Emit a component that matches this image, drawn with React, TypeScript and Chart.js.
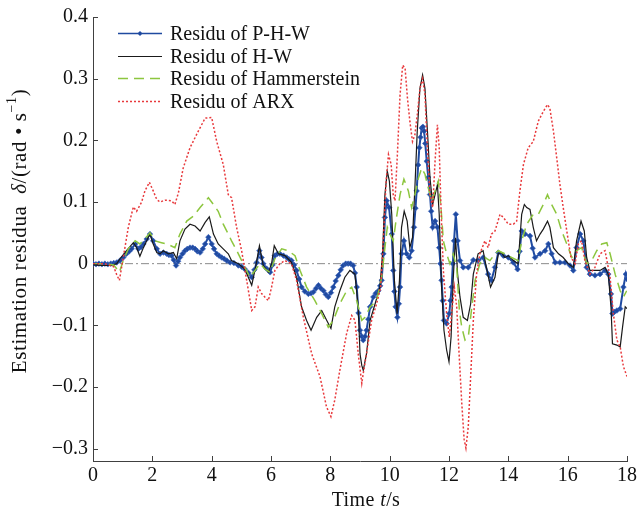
import React, { useEffect, useRef } from "react";
import { Chart, registerables } from "chart.js";
Chart.register(...registerables);

const X_TICKS = [0, 2, 4, 6, 8, 10, 12, 14, 16, 18];
const Y_TICKS = [-0.3, -0.2, -0.1, 0, 0.1, 0.2, 0.3, 0.4];
const LABELS = ["Residu of P-H-W", "Residu of H-W", "Residu of Hammerstein", "Residu of ARX"];
// title pieces: [text, style]  style: "n" normal, "i" italic, "s" superscript
const X_TITLE: [string, string][] = [["Time ", "n"], ["t", "i"], ["/s", "n"]];
const Y_TITLE: [string, string][] = [
  ["Estimation residua  ", "n"],
  ["\u03b4", "i"],
  ["/(rad \u2022 s", "n"],
  ["\u22121", "s"],
  [")", "n"],
];

// [time (s), residual]
const PHW: [number, number][] = [
  [0, 0], [0.1, -0.001], [0.2, 0], [0.3, -0.001], [0.4, 0], [0.5, -0.001], [0.6, 0], [0.7, 0.001], [0.8, 0.002],
  [0.91, 0.005], [1.02, 0.01], [1.13, 0.016], [1.22, 0.02], [1.3, 0.024], [1.42, 0.032], [1.53, 0.024], [1.62, 0.027],
  [1.7, 0.032], [1.81, 0.04], [1.92, 0.048], [2.03, 0.037], [2.15, 0.024], [2.26, 0.016], [2.37, 0.018], [2.48, 0.016],
  [2.56, 0.014], [2.65, 0.013], [2.72, 0.006], [2.8, -0.003], [2.87, 0.004], [2.93, 0.01], [3.02, 0.016], [3.1, 0.021],
  [3.18, 0.024], [3.27, 0.026], [3.36, 0.026], [3.44, 0.024], [3.52, 0.02], [3.61, 0.018], [3.7, 0.024], [3.78, 0.032],
  [3.89, 0.043], [4.0, 0.032], [4.08, 0.024], [4.17, 0.016], [4.25, 0.013], [4.34, 0.01], [4.42, 0.008], [4.51, 0.005],
  [4.62, 0.002], [4.75, 0.001], [4.9, -0.003], [5.01, -0.005], [5.12, -0.009], [5.24, -0.015], [5.35, -0.022],
  [5.44, -0.01], [5.52, 0.002], [5.61, 0.021], [5.68, 0.01], [5.74, 0], [5.85, -0.008], [5.97, -0.014], [6.05, -0.002],
  [6.13, 0.013], [6.22, 0.016], [6.3, 0.016], [6.42, 0.013], [6.53, 0.01], [6.61, 0.007], [6.69, 0.005], [6.78, -0.002],
  [6.86, -0.011], [6.95, -0.025], [7.03, -0.038], [7.14, -0.045], [7.26, -0.049], [7.35, -0.048], [7.43, -0.046],
  [7.52, -0.04], [7.6, -0.035], [7.68, -0.04], [7.77, -0.044], [7.85, -0.05], [7.93, -0.054], [8.02, -0.047],
  [8.1, -0.038], [8.18, -0.028], [8.27, -0.019], [8.35, -0.01], [8.43, -0.003], [8.52, 0], [8.6, 0], [8.68, 0],
  [8.77, -0.003], [8.83, -0.015], [8.89, -0.038], [8.95, -0.08], [9.0, -0.108], [9.06, -0.118], [9.11, -0.124],
  [9.17, -0.118], [9.22, -0.108], [9.28, -0.09], [9.34, -0.07], [9.45, -0.054], [9.53, -0.048], [9.62, -0.044],
  [9.68, -0.036], [9.73, -0.027], [9.79, 0.016], [9.84, 0.075], [9.9, 0.102], [9.98, 0.091], [10.07, 0.048],
  [10.12, -0.011], [10.16, -0.045], [10.2, -0.07], [10.26, -0.087], [10.31, -0.065], [10.35, -0.038], [10.4, 0.016],
  [10.48, 0.037], [10.57, 0.016], [10.66, 0.01], [10.74, 0.021], [10.82, 0.059], [10.87, 0.09], [10.91, 0.118],
  [10.96, 0.16], [11.0, 0.188], [11.04, 0.205], [11.08, 0.22], [11.12, 0.222], [11.16, 0.215], [11.2, 0.195],
  [11.25, 0.166], [11.3, 0.14], [11.36, 0.112], [11.4, 0.085], [11.45, 0.059], [11.53, 0.069], [11.61, 0.059],
  [11.67, 0.026], [11.71, 0], [11.75, -0.027], [11.79, -0.06], [11.83, -0.092], [11.92, -0.097], [12.01, -0.081],
  [12.05, -0.06], [12.09, -0.038], [12.13, 0], [12.17, 0.037], [12.23, 0.08], [12.29, 0.037], [12.37, 0.005],
  [12.48, -0.006], [12.65, -0.006], [12.82, 0.006], [12.98, 0.005], [13.15, 0.01], [13.32, -0.017], [13.43, -0.027],
  [13.55, -0.006], [13.66, 0.018], [13.83, 0.013], [14.0, 0.01], [14.17, 0.002], [14.31, -0.009], [14.38, 0.02],
  [14.45, 0.053], [14.56, 0.048], [14.73, 0.045], [14.82, 0.025], [14.9, 0.01], [15.07, 0.016], [15.24, 0.021],
  [15.35, 0.032], [15.46, 0.016], [15.58, 0.002], [15.74, 0.002], [15.91, 0.002], [16.08, -0.003], [16.19, -0.011],
  [16.3, 0.026], [16.42, 0.048], [16.53, 0.037], [16.64, -0.006], [16.75, -0.017], [16.92, -0.019], [17.09, -0.017],
  [17.26, -0.011], [17.37, -0.017], [17.46, -0.049], [17.51, -0.081], [17.58, -0.078], [17.66, -0.076],
  [17.77, -0.073], [17.88, -0.038], [17.96, -0.017], [18.0, -0.025],
];

const HW: [number, number][] = [
  [0, -0.002], [0.3, -0.003], [0.6, -0.003], [0.8, 0], [0.91, 0.008], [1.13, 0.021], [1.36, 0.034], [1.47, 0.026],
  [1.58, 0.012], [1.7, 0.026], [1.81, 0.037], [1.92, 0.048], [2.03, 0.032], [2.15, 0.018], [2.26, 0.016], [2.37, 0.021],
  [2.54, 0.016], [2.71, 0.018], [2.82, 0.008], [2.93, 0.037], [3.1, 0.056], [3.27, 0.064], [3.44, 0.061], [3.61, 0.053],
  [3.78, 0.067], [3.92, 0.076], [4.06, 0.048], [4.22, 0.032], [4.39, 0.024], [4.56, 0.016], [4.67, 0.005], [4.9, 0],
  [5.12, -0.009], [5.35, -0.035], [5.48, -0.006], [5.61, 0.029], [5.74, -0.003], [5.91, -0.014], [6.02, 0],
  [6.11, 0.029], [6.25, 0.016], [6.47, 0.013], [6.69, 0.002], [6.86, -0.022], [7.03, -0.07], [7.2, -0.092],
  [7.35, -0.108], [7.54, -0.087], [7.71, -0.076], [7.88, -0.092], [8.02, -0.105], [8.15, -0.07], [8.32, -0.044],
  [8.49, -0.022], [8.66, -0.011], [8.83, -0.017], [8.94, -0.07], [9.0, -0.146], [9.06, -0.165], [9.11, -0.173],
  [9.22, -0.146], [9.34, -0.092], [9.51, -0.065], [9.67, -0.038], [9.76, 0.016], [9.84, 0.112], [9.92, 0.15],
  [9.99, 0.134], [10.07, 0.08], [10.16, -0.027], [10.25, -0.081], [10.33, -0.027], [10.4, 0.059], [10.49, 0.085],
  [10.59, 0.069], [10.68, 0.026], [10.77, 0.042], [10.85, 0.123], [10.93, 0.215], [11.02, 0.284], [11.11, 0.306],
  [11.19, 0.284], [11.28, 0.209], [11.36, 0.139], [11.45, 0.096], [11.53, 0.112], [11.61, 0.128], [11.67, 0.08],
  [11.75, -0.038], [11.83, -0.108], [11.92, -0.14], [12.0, -0.159], [12.07, -0.119], [12.14, -0.027], [12.22, 0.042],
  [12.29, -0.017], [12.37, -0.054], [12.48, -0.087], [12.62, -0.092], [12.73, -0.065], [12.82, -0.017], [12.98, 0.016],
  [13.15, 0.021], [13.26, -0.006], [13.4, -0.038], [13.55, -0.022], [13.66, 0.016], [13.77, 0.018], [13.88, 0.01],
  [14.0, 0.013], [14.17, 0.005], [14.33, 0], [14.45, 0.08], [14.54, 0.096], [14.62, 0.091], [14.73, 0.088],
  [14.84, 0.059], [14.95, 0.037], [15.07, 0.048], [15.18, 0.056], [15.32, 0.069], [15.4, 0.059], [15.52, 0.026],
  [15.69, 0.016], [15.85, 0.01], [16.02, 0], [16.19, -0.006], [16.3, 0.037], [16.45, 0.069], [16.56, 0.053],
  [16.64, 0.01], [16.75, -0.011], [16.92, -0.011], [17.09, -0.011], [17.26, -0.006], [17.37, -0.017], [17.46, -0.07],
  [17.51, -0.13], [17.66, -0.132], [17.77, -0.135], [17.85, -0.103], [17.94, -0.07], [18.0, -0.073],
];

const HAMMER: [number, number][] = [
  [0, 0], [0.4, 0], [0.7, -0.002], [0.89, -0.014], [1.02, 0.005], [1.19, 0.024], [1.42, 0.037], [1.58, 0.032],
  [1.75, 0.04], [1.92, 0.05], [2.09, 0.037], [2.31, 0.034], [2.54, 0.031], [2.76, 0.026], [2.93, 0.048], [3.16, 0.069],
  [3.38, 0.077], [3.61, 0.091], [3.89, 0.107], [4.06, 0.096], [4.22, 0.085], [4.39, 0.064], [4.56, 0.048],
  [4.67, 0.037], [4.9, 0.016], [5.12, -0.006], [5.29, -0.022], [5.46, -0.011], [5.63, 0], [5.8, -0.009],
  [5.97, -0.014], [6.13, 0.008], [6.36, 0.024], [6.58, 0.021], [6.81, 0.013], [6.98, -0.011], [7.2, -0.038],
  [7.48, -0.06], [7.71, -0.081], [7.93, -0.103], [8.1, -0.092], [8.32, -0.065], [8.55, -0.044], [8.72, -0.038],
  [8.89, -0.06], [9.06, -0.092], [9.17, -0.087], [9.34, -0.07], [9.56, -0.06], [9.73, -0.022], [9.84, 0.026],
  [9.92, 0.059], [10.01, 0.048], [10.12, 0.037], [10.23, 0.075], [10.35, 0.112], [10.48, 0.137], [10.63, 0.118],
  [10.74, 0.091], [10.85, 0.112], [10.97, 0.139], [11.08, 0.155], [11.19, 0.145], [11.3, 0.123], [11.42, 0.102],
  [11.53, 0.118], [11.64, 0.134], [11.73, 0.091], [11.81, 0.037], [11.92, 0.016], [12.03, 0], [12.14, 0.016],
  [12.26, -0.006], [12.35, -0.076], [12.43, -0.103], [12.54, -0.124], [12.65, -0.119], [12.77, -0.07], [12.88, -0.027],
  [13.04, 0], [13.21, 0.01], [13.38, 0.005], [13.55, 0.016], [13.66, 0.021], [13.88, 0.016], [14.11, 0.01],
  [14.33, 0.005], [14.45, 0.037], [14.62, 0.064], [14.84, 0.08], [15.01, 0.08], [15.18, 0.096], [15.32, 0.112],
  [15.46, 0.096], [15.63, 0.08], [15.8, 0.053], [15.97, 0.032], [16.14, 0.01], [16.3, 0.021], [16.47, 0.026],
  [16.64, 0], [16.81, 0.005], [16.98, 0.021], [17.15, 0.032], [17.32, 0.034], [17.43, 0.016], [17.6, -0.017],
  [17.77, -0.044], [17.88, -0.054], [17.99, -0.044],
];

const ARX: [number, number][] = [
  [0, 0], [0.4, 0], [0.7, -0.005], [0.8, -0.018], [0.89, -0.027], [1.02, 0.01], [1.19, 0.059], [1.36, 0.092],
  [1.47, 0.085], [1.64, 0.1], [1.75, 0.118], [1.9, 0.132], [2.03, 0.118], [2.15, 0.104], [2.26, 0.1], [2.43, 0.103],
  [2.65, 0.102], [2.76, 0.096], [2.88, 0.115], [3.04, 0.155], [3.27, 0.188], [3.55, 0.215], [3.78, 0.236], [4.0, 0.237],
  [4.17, 0.198], [4.39, 0.161], [4.56, 0.112], [4.67, 0.107], [4.84, 0.059], [5.01, 0.021], [5.18, -0.027],
  [5.35, -0.076], [5.46, -0.07], [5.57, -0.038], [5.69, -0.049], [5.91, -0.06], [6.02, -0.038], [6.13, -0.011],
  [6.3, 0], [6.47, 0.005], [6.69, 0], [6.86, -0.027], [7.09, -0.087], [7.37, -0.146], [7.65, -0.183], [7.87, -0.232],
  [8.02, -0.248], [8.15, -0.221], [8.32, -0.173], [8.55, -0.113], [8.72, -0.084], [8.83, -0.092], [8.94, -0.146],
  [9.06, -0.194], [9.11, -0.178], [9.22, -0.146], [9.39, -0.092], [9.56, -0.065], [9.7, -0.038], [9.79, 0.042],
  [9.88, 0.134], [9.96, 0.177], [10.05, 0.161], [10.12, 0.112], [10.18, 0.102], [10.26, 0.177], [10.35, 0.274],
  [10.44, 0.322], [10.52, 0.317], [10.6, 0.268], [10.68, 0.231], [10.77, 0.198], [10.85, 0.209], [10.93, 0.241],
  [11.02, 0.284], [11.11, 0.3], [11.19, 0.274], [11.28, 0.177], [11.36, 0.112], [11.45, 0.091], [11.53, 0.166],
  [11.61, 0.225], [11.67, 0.188], [11.73, 0.091], [11.81, -0.011], [11.92, -0.081], [12.01, -0.119], [12.09, -0.081],
  [12.18, -0.038], [12.26, -0.07], [12.34, -0.146], [12.43, -0.226], [12.51, -0.285], [12.57, -0.299],
  [12.65, -0.264], [12.74, -0.173], [12.82, -0.092], [12.93, -0.017], [13.04, 0.016], [13.21, 0.037], [13.32, 0.026],
  [13.43, 0.048], [13.55, 0.053], [13.72, 0.08], [13.83, 0.075], [14.0, 0.064], [14.17, 0.064], [14.28, 0.069],
  [14.39, 0.118], [14.51, 0.161], [14.67, 0.188], [14.84, 0.198], [15.01, 0.231], [15.18, 0.247], [15.32, 0.258],
  [15.4, 0.252], [15.52, 0.215], [15.63, 0.172], [15.74, 0.128], [15.85, 0.091], [15.97, 0.053], [16.11, 0.01],
  [16.25, 0], [16.36, 0.032], [16.47, 0.037], [16.58, 0.005], [16.75, -0.017], [16.92, -0.006], [17.09, 0.016],
  [17.26, 0.021], [17.43, -0.022], [17.54, -0.081], [17.66, -0.124], [17.77, -0.135], [17.88, -0.167], [18.0, -0.183],
];

const ZERO_LINE: [number, number][] = [[0, 0], [18, 0]];

const FONT = "'Liberation Serif', 'Times New Roman', serif";
const AXIS_COLOR = "#404040";
const TEXT_COLOR = "#111";

const toXY = (arr: [number, number][]) => arr.map(([x, y]) => ({ x, y }));

const inwardTicks = {
  id: "inwardTicks",
  afterDraw(chart: any) {
    const { ctx, chartArea } = chart;
    const xs = chart.scales.x;
    const ys = chart.scales.y;
    ctx.save();
    ctx.strokeStyle = AXIS_COLOR;
    ctx.lineWidth = 1;
    ctx.beginPath();
    xs.ticks.forEach((t: any) => {
      const px = Math.round(xs.getPixelForValue(t.value)) + 0.5;
      ctx.moveTo(px, chartArea.bottom);
      ctx.lineTo(px, chartArea.bottom - 5);
    });
    ys.ticks.forEach((t: any) => {
      const py = Math.round(ys.getPixelForValue(t.value)) + 0.5;
      ctx.moveTo(chartArea.left, py);
      ctx.lineTo(chartArea.left + 5, py);
    });
    ctx.stroke();
    ctx.restore();
  },
};

function drawRich(ctx: any, parts: [string, string][], size: number, spacing: number) {
  const fontFor = (st: string) =>
    st === "i" ? `italic ${size}px ${FONT}` : st === "s" ? `${Math.round(size * 0.65)}px ${FONT}` : `${size}px ${FONT}`;
  const hasLS = "letterSpacing" in ctx;
  let total = 0;
  const widths: number[] = [];
  for (const [txt, st] of parts) {
    ctx.font = fontFor(st);
    if (hasLS) ctx.letterSpacing = `${spacing}px`;
    const w = ctx.measureText(txt).width;
    widths.push(w);
    total += w;
  }
  let x = -total / 2;
  parts.forEach(([txt, st], i) => {
    ctx.font = fontFor(st);
    if (hasLS) ctx.letterSpacing = `${spacing}px`;
    ctx.fillText(txt, x, st === "s" ? -size * 0.35 : 0);
    x += widths[i];
  });
  if (hasLS) ctx.letterSpacing = "0px";
}

const axisTitles = {
  id: "axisTitles",
  afterDraw(chart: any) {
    const { ctx, chartArea } = chart;
    ctx.save();
    ctx.fillStyle = TEXT_COLOR;
    ctx.textBaseline = "middle";
    ctx.textAlign = "left";
    ctx.save();
    ctx.translate((chartArea.left + chartArea.right) / 2 + 6, chartArea.bottom + 40);
    drawRich(ctx, X_TITLE, 20, 0.4);
    ctx.restore();
    ctx.save();
    ctx.translate(chartArea.left - 73, (chartArea.top + chartArea.bottom) / 2 - 8);
    ctx.rotate(-Math.PI / 2);
    drawRich(ctx, Y_TITLE, 21, 0.6);
    ctx.restore();
    ctx.restore();
  },
};

const lineLegend = {
  id: "lineLegend",
  afterDraw(chart: any) {
    const { ctx, chartArea } = chart;
    const x0 = chartArea.left + 25;
    const x1 = chartArea.left + 69;
    const tx = chartArea.left + 77;
    const rowGap = 22.5;
    const firstRow = chartArea.top + 16;
    ctx.save();
    ctx.font = `20px ${FONT}`;
    ctx.textBaseline = "middle";
    ctx.textAlign = "left";
    for (let i = 0; i < 4; i++) {
      const ds = chart.data.datasets[i];
      const y = Math.round(firstRow + i * rowGap) + 0.5;
      ctx.strokeStyle = ds.borderColor;
      ctx.lineWidth = Math.min(ds.borderWidth, 1.5);
      ctx.setLineDash(ds.borderDash || []);
      ctx.beginPath();
      ctx.moveTo(x0, y);
      ctx.lineTo(x1, y);
      ctx.stroke();
      ctx.setLineDash([]);
      if (ds.pointRadius > 0) {
        const cx = (x0 + x1) / 2;
        const r = 2.5;
        ctx.fillStyle = ds.pointBackgroundColor;
        ctx.beginPath();
        ctx.moveTo(cx, y - r);
        ctx.lineTo(cx + r, y);
        ctx.lineTo(cx, y + r);
        ctx.lineTo(cx - r, y);
        ctx.closePath();
        ctx.fill();
      }
      ctx.fillStyle = TEXT_COLOR;
      ctx.fillText(ds.label, tx, y + 1);
    }
    ctx.restore();
  },
};

const fmtY = (v: number) => {
  const r = Math.round(v * 10) / 10;
  if (r === 0) return "0";
  return (r < 0 ? "\u2212" : "") + Math.abs(r).toFixed(1);
};

export default function App() {
  const ref = useRef<HTMLCanvasElement>(null);
  useEffect(() => {
    if (!ref.current) return;
    const chart = new Chart(ref.current, {
      type: "line",
      data: {
        datasets: [
          {
            label: LABELS[0],
            data: toXY(PHW),
            borderColor: "#1f4aa0",
            borderWidth: 2,
            pointRadius: 2.8,
            pointStyle: "rectRot",
            pointBackgroundColor: "#1f4aa0",
            pointBorderColor: "rgba(60,100,190,0.8)",
            pointBorderWidth: 0.8,
            tension: 0,
            order: 3,
          },
          {
            label: LABELS[1],
            data: toXY(HW),
            borderColor: "#1a1a1a",
            borderWidth: 1.2,
            pointRadius: 0,
            tension: 0,
            order: 2,
          },
          {
            label: LABELS[2],
            data: toXY(HAMMER),
            borderColor: "#8dc63f",
            borderWidth: 1.5,
            borderDash: [10, 6],
            pointRadius: 0,
            tension: 0,
            order: 1,
          },
          {
            label: LABELS[3],
            data: toXY(ARX),
            borderColor: "#e8393c",
            borderWidth: 1.5,
            borderDash: [2, 2],
            pointRadius: 0,
            tension: 0,
            order: 0,
          },
          {
            label: "zero",
            data: toXY(ZERO_LINE),
            borderColor: "#8a8a8a",
            borderWidth: 1,
            borderDash: [8, 3, 2, 3],
            pointRadius: 0,
            order: 4,
          },
        ],
      },
      options: {
        animation: false,
        responsive: false,
        maintainAspectRatio: false,
        layout: { padding: { left: 0, top: 15, right: 16, bottom: 0 } },
        plugins: { legend: { display: false }, tooltip: { enabled: false } },
        scales: {
          x: {
            type: "linear",
            min: 0,
            max: 18,
            afterBuildTicks: (s: any) => {
              s.ticks = X_TICKS.map((value) => ({ value }));
            },
            afterFit: (s: any) => {
              s.height = 51;
            },
            ticks: {
              font: { family: FONT, size: 20 },
              color: TEXT_COLOR,
              padding: 3,
              maxRotation: 0,
              autoSkip: false,
              callback: (v: any) => String(v),
            },
            grid: { drawOnChartArea: false, drawTicks: false },
            border: { display: true, color: AXIS_COLOR, width: 1 },
            title: { display: false },
          },
          y: {
            type: "linear",
            min: -0.32,
            max: 0.4,
            afterBuildTicks: (s: any) => {
              s.ticks = Y_TICKS.map((value) => ({ value }));
            },
            afterFit: (s: any) => {
              s.width = 93;
            },
            ticks: {
              font: { family: FONT, size: 20 },
              color: TEXT_COLOR,
              padding: 5,
              autoSkip: false,
              callback: (v: any) => fmtY(Number(v)),
            },
            grid: { drawOnChartArea: false, drawTicks: false },
            border: { display: true, color: AXIS_COLOR, width: 1 },
            title: { display: false },
          },
        },
      },
      plugins: [inwardTicks, lineLegend, axisTitles],
    } as any);
    return () => chart.destroy();
  }, []);
  return (
    <div style={{ position: "fixed", left: 0, top: 0, width: 643, height: 512, background: "#ffffff" }}>
      <canvas ref={ref} width={643} height={512} style={{ display: "block" }} />
    </div>
  );
}
